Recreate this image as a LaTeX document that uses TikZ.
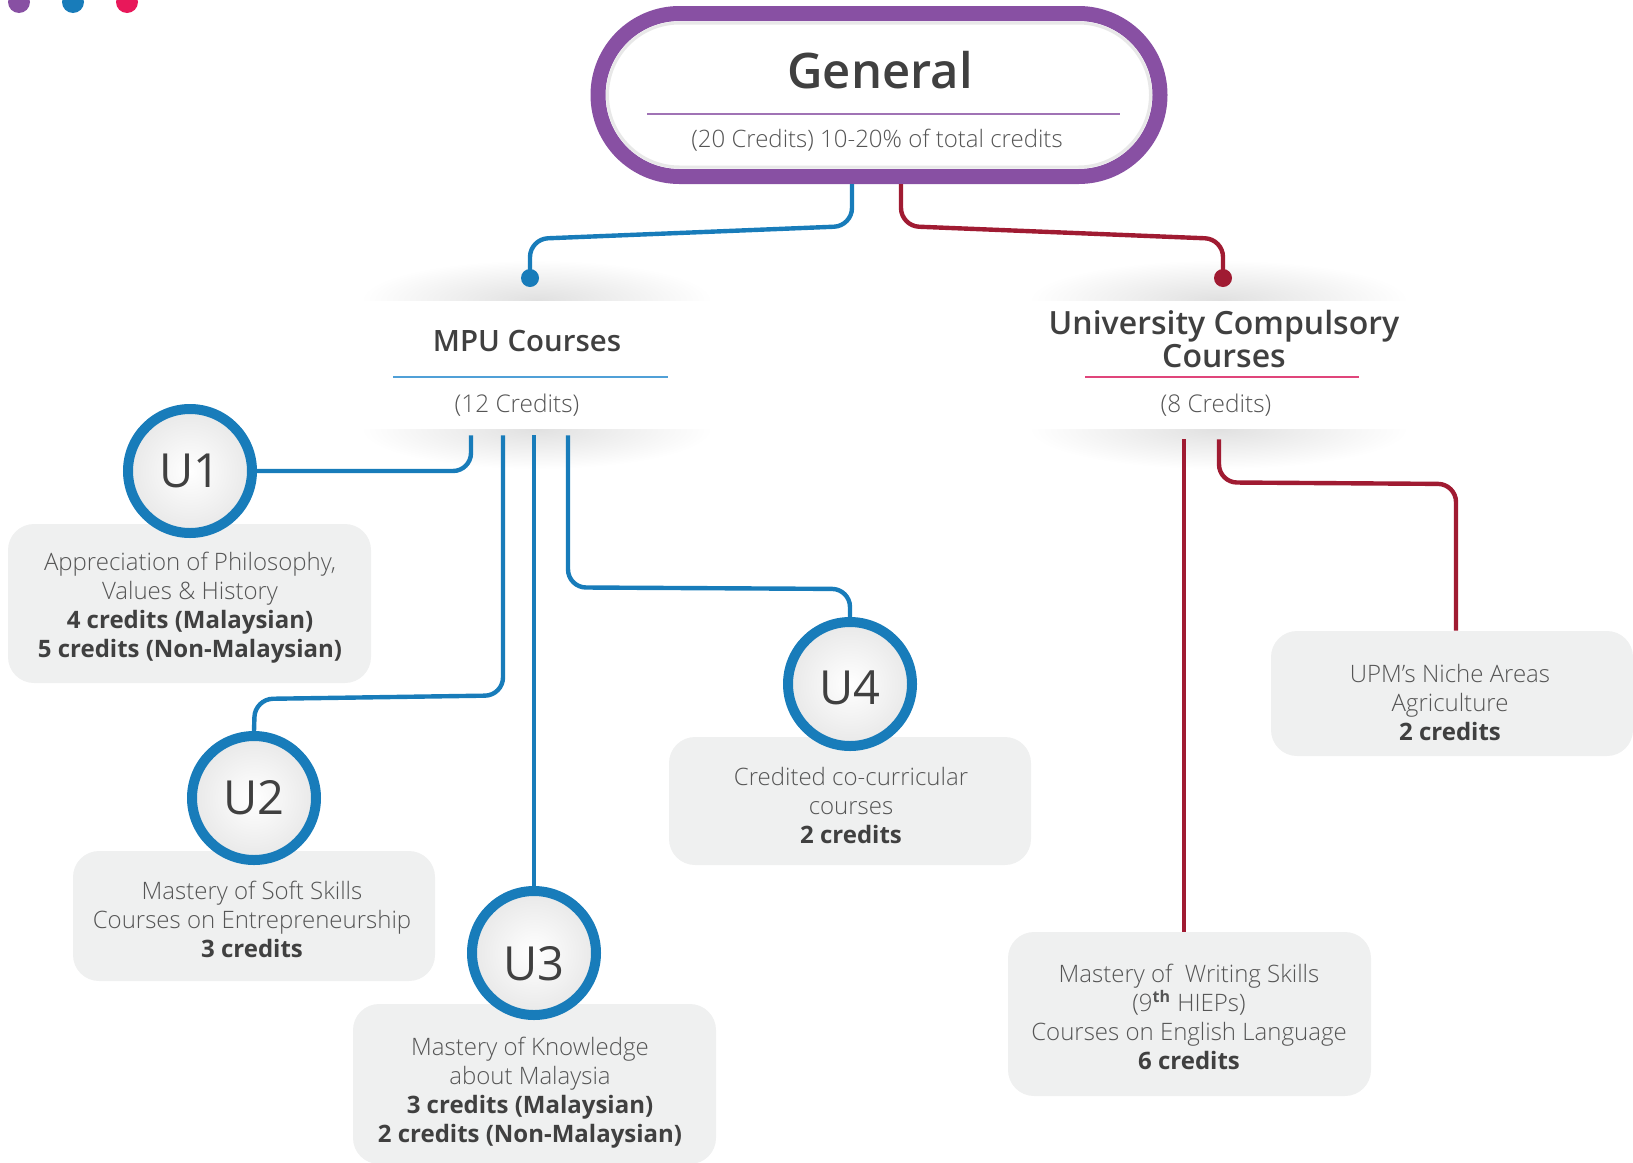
\documentclass[tikz,border=0pt]{standalone}
\usepackage{fontspec}
\setmainfont{Open Sans}
\newfontfamily\lightfont{Open Sans Light}
\newfontfamily\semifont{Open Sans Semibold}
\definecolor{upurple}{RGB}{136,80,163}
\definecolor{ublue}{RGB}{24,124,186}
\definecolor{lblue}{RGB}{80,160,215}
\definecolor{ured}{RGB}{160,27,50}
\definecolor{upink}{RGB}{224,69,123}
\definecolor{dpink}{RGB}{232,24,90}
\definecolor{boxgray}{RGB}{239,240,240}
\definecolor{txt}{RGB}{85,85,85}
\definecolor{dtxt}{RGB}{64,64,64}
\newcommand\boldtxt[1]{{\rmfamily\bfseries\color{dtxt}#1}}
\newcommand\lowered[2]{\raisebox{-#1}[\height][\depth]{#2}}
\begin{document}
\begin{tikzpicture}[x=0.5pt,y=-0.5pt,
  conn/.style={line width=2.2pt, rounded corners=9pt},
  bconn/.style={conn, draw=ublue},
  rconn/.style={conn, draw=ured},
  infobox/.style={fill=boxgray, rounded corners=13pt, inner sep=0pt},
  body/.style={font=\lightfont\fontsize{12}{14.5}\selectfont, text=txt, align=center, inner sep=0pt},
  ucirc/.style={circle, draw=ublue, line width=5pt, minimum size=62pt, inner sep=0pt, inner color=white, outer color=black!9, font=\fontsize{23.5}{23.5}\selectfont, text=dtxt},
  dot/.style={circle, minimum size=9pt, inner sep=0pt},
  title/.style={font=\semifont\fontsize{14.7}{16.5}\selectfont, text=dtxt, align=center, inner sep=0pt},
  sub/.style={font=\lightfont\fontsize{12.2}{14}\selectfont, text=txt, inner sep=0pt},
  panel/.style={minimum width=171.5pt, minimum height=64.5pt, inner sep=0pt},
]
\useasboundingbox (0,0) rectangle (1633,1162);
\clip (0,0) rectangle (1633,1162);

% top-left dots
\fill[upurple] (19,2) circle (5.5pt);
\fill[ublue] (73,2) circle (5.5pt);
\fill[dpink] (127,2) circle (5.5pt);

% panel shadows
\begin{scope}
\clip (330,240) rectangle (745,300);
\shade[inner color=black!12, outer color=white] (536.5,300) ellipse [x radius=88pt, y radius=20pt];
\end{scope}
\begin{scope}
\clip (330,429) rectangle (745,480);
\shade[inner color=black!12, outer color=white] (536.5,429) ellipse [x radius=88pt, y radius=20pt];
\end{scope}
\begin{scope}
\clip (990,240) rectangle (1450,300);
\shade[inner color=black!12, outer color=white] (1218.5,300) ellipse [x radius=95pt, y radius=20pt];
\end{scope}
\begin{scope}
\clip (990,429) rectangle (1450,480);
\shade[inner color=black!12, outer color=white] (1218.5,429) ellipse [x radius=95pt, y radius=20pt];
\end{scope}

% panels
\node[panel] (mpu) at (536.5,364.5) {};
\node[panel] (uni) at (1218.5,364.5) {};
\node[title] (mputitle) at (527,341) {MPU Courses};
\draw[lblue, line width=0.9pt] (393,377) -- (668,377);
\node[sub] (mpucred) at (517,405) {(12 Credits)};
\node[title, font=\semifont\fontsize{16}{16.8}\selectfont] (unititle) at (1224,339) {University Compulsory\\Courses};
\draw[upink, line width=0.9pt] (1085,377) -- (1359,377);
\node[sub] (unicred) at (1216,405) {(8 Credits)};

% general pill
\node[draw=upurple, line width=7.5pt, fill=white, rounded corners=40.75pt,
      minimum width=281pt, minimum height=81.5pt, inner sep=0pt] (gen) at (879,95) {};
\node[draw=black!9, line width=1.5pt, rounded corners=36pt,
      minimum width=271.5pt, minimum height=72pt, inner sep=0pt] (geninner) at (gen.center) {};
\node[font=\semifont\fontsize{24.5}{28}\selectfont, text=dtxt, inner sep=0pt] (gtitle) at (880,70) {General};
\draw[upurple!80, line width=0.9pt] (647,114) -- (1120,114);
\node[font=\lightfont\fontsize{12}{14}\selectfont, text=txt, inner sep=0pt] (gsub) at (877,140) {(20 Credits) 10-20\% of total credits};

% dots under general
\node[dot, fill=ublue] (bdot) at (530,278) {};
\node[dot, fill=ured] (rdot) at (1223,278) {};
\coordinate (g1) at ([xshift=-13.5pt]gen.south);
\coordinate (g2) at ([xshift=11pt]gen.south);
\draw[bconn] (g1) -- ++(0,42) -- (530,239) -- (bdot.center);
\draw[rconn] (g2) -- ++(0,42) -- (1223,239) -- (rdot.center);

% boxes
\node[infobox, minimum width=181.5pt, minimum height=79.5pt] (box1) at (189.5,603.5) {};
\node[infobox, minimum width=181pt, minimum height=65pt] (box2) at (254,916) {};
\node[infobox, minimum width=181.5pt, minimum height=80pt] (box3) at (534.5,1084) {};
\node[infobox, minimum width=181pt, minimum height=64pt] (box4) at (850,801) {};
\node[infobox, minimum width=181.5pt, minimum height=82pt] (box5) at (1189.5,1014) {};
\node[infobox, minimum width=181pt, minimum height=62.5pt] (box6) at (1452,693.5) {};

% MPU connectors
\coordinate (m1) at ([xshift=-32.75pt,yshift=-3pt]mpu.south);
\coordinate (m2) at ([xshift=-16.75pt,yshift=-3pt]mpu.south);
\coordinate (m3) at ([xshift=-1.25pt,yshift=-3pt]mpu.south);
\coordinate (m4) at ([xshift=15.75pt,yshift=-3pt]mpu.south);

% circles
\node[ucirc] (u1) at (190,471) {U1};
\node[ucirc] (u2) at (254,798) {U2};
\node[ucirc] (u3) at (534,953) {\lowered{5.5pt}{U3}};
\node[ucirc] (u4) at (850,684) {\lowered{2pt}{U4}};

\draw[bconn] (m1) |- (u1.east);
\draw[bconn] (m2) -- ++(0,260) -- (255,699) -- (u2.north);
\draw[bconn] (m3) -- (u3.north);
\draw[bconn] (m4) -- ++(0,152) -- (850,589) -- (u4.north);

% University connectors
\coordinate (r1) at ([xshift=-17.25pt,yshift=-5pt]uni.south);
\coordinate (r2) at ([xshift=0.25pt,yshift=-5pt]uni.south);
\draw[rconn] (r1) -- (r1 |- box5.north);
\draw[rconn] (r2) -- ++(0,43) -- (1456,484) -- ([xshift=2pt]box6.north);

% texts
\node[body] (t1) at (190,608) {Appreciation of Philosophy,\\Values \& History\\\boldtxt{4 credits (Malaysian)}\\\boldtxt{5 credits (Non-Malaysian)}};
\node[body] (t2) at (252,919) {Mastery of Soft Skills\\Courses on Entrepreneurship\\\boldtxt{3 credits}};
\node[body] (t3) at (530,1093) {Mastery of Knowledge\\about Malaysia\\\boldtxt{3 credits (Malaysian)}\\\boldtxt{2 credits (Non-Malaysian)}};
\node[body] (t4) at (851,805) {Credited co-curricular\\courses\\\boldtxt{2 credits}};
\node[body] (t5) at (1189,1017) {Mastery of\ \ Writing Skills\\(9\textsuperscript{\rmfamily\bfseries th} HIEPs)\\Courses on English Language\\\boldtxt{6 credits}};
\node[body] (t6) at (1450,702) {UPM’s Niche Areas\\Agriculture\\\boldtxt{2 credits}};
\end{tikzpicture}
\end{document}
